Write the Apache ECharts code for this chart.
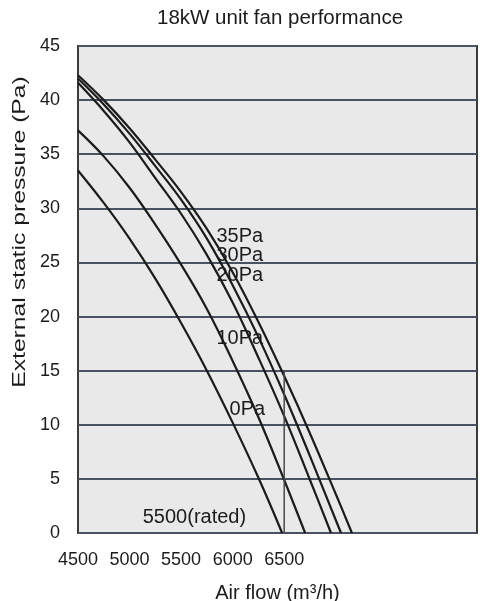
<!DOCTYPE html>
<html>
<head>
<meta charset="utf-8">
<script src="https://cdn.jsdelivr.net/npm/echarts@6/dist/echarts.min.js"></script>
<style>
  html, body { margin: 0; padding: 0; background: #fff; }
  #chart { width: 484px; height: 601px; }
</style>
</head>
<body>
<div id="chart"></div>
<script>
// flow points (m3/h)
var flowSteps = [4500, 4750, 5000, 5250, 5500, 5750, 6000, 6250, 6500, 6750, 7000];
// pressure (Pa) along each curve, then the flow where it hits 0
var curve0Pa = [33.5, 30.5, 27.2, 23.5, 19.4, 15.0, 10.2, 5.1];
var curve10Pa = [37.2, 34.8, 31.9, 28.5, 24.8, 20.7, 15.9, 10.7, 4.9];
var curve20Pa = [41.6, 39.0, 36.1, 32.8, 29.5, 25.7, 21.3, 16.2, 10.8, 4.9];
var curve30Pa = [42.0, 39.6, 36.9, 33.9, 30.8, 27.2, 22.9, 18.1, 12.8, 7.1, 1.2];
var curve35Pa = [42.3, 40.0, 37.4, 34.5, 31.5, 28.1, 24.1, 19.5, 14.5, 9.2, 3.6];
var zeroFlow = [6480, 6703, 6954, 7051, 7157];
var curveNames = ["0Pa", "10Pa", "20Pa", "30Pa", "35Pa"];
// where each curve label sits [flow, pressure]
var labelPos = [[5970, 11.4], [5843, 18.0], [5843, 23.8], [5843, 25.6], [5843, 27.4]];
var xTicks = [4500, 5000, 5500, 6000, 6500];
var ratedFlow = 6500;
var ratedTop = 15;
var ratedText = "5500(rated)";
var ratedTextPos = [5128, 1.4];

var FONT = "Liberation Sans, Arial, sans-serif";

function curveData(vals, end) {
  var pts = [];
  for (var i = 0; i < vals.length; i++) pts.push([flowSteps[i], vals[i]]);
  pts.push([end, 0]);
  return pts;
}

var allCurves = [curve0Pa, curve10Pa, curve20Pa, curve30Pa, curve35Pa];
var series = [];
allCurves.forEach(function (vals, k) {
  series.push({
    name: curveNames[k],
    type: "line",
    data: curveData(vals, zeroFlow[k]),
    smooth: 0.4,
    symbol: "none",
    lineStyle: { color: "#1b1b1b", width: 2.2 },
    markPoint: {
      symbol: "circle",
      symbolSize: 0,
      data: [{ coord: labelPos[k] }],
      label: {
        show: true,
        position: "right",
        distance: 0,
        formatter: curveNames[k],
        color: "#1b1b1b",
        fontFamily: FONT,
        fontSize: 20
      }
    }
  });
});

series.push({
  name: "rated",
  type: "line",
  data: [[ratedFlow, 0], [ratedFlow, ratedTop]],
  symbol: "none",
  lineStyle: { color: "#4a4a4a", width: 1.5 },
  markPoint: {
    symbol: "circle",
    symbolSize: 0,
    data: [{ coord: ratedTextPos }],
    label: {
      show: true,
      position: "right",
      distance: 0,
      formatter: ratedText,
      color: "#1b1b1b",
      fontFamily: FONT,
      fontSize: 20
    }
  }
});

var myChart = echarts.init(document.getElementById("chart"));
myChart.setOption({
  animation: false,
  title: {
    text: "18kW unit fan performance",
    left: 152,
    top: 3,
    textStyle: { fontFamily: FONT, fontSize: 20.5, fontWeight: "normal", color: "#1b1b1b" }
  },
  graphic: [{
    type: "text",
    x: 20,
    y: 232,
    rotation: Math.PI / 2,
    scaleX: 1.3,
    style: {
      text: "External static pressure (Pa)",
      align: "center",
      verticalAlign: "middle",
      font: "19px " + FONT,
      fill: "#1b1b1b"
    }
  }],
  grid: {
    left: 78,
    right: 7,
    top: 46,
    bottom: 68,
    show: true,
    backgroundColor: "#e9e9e9",
    borderColor: "#3a3a3a",
    borderWidth: 2,
    outerBoundsMode: "none"
  },
  xAxis: {
    type: "value",
    min: 4500,
    max: 8370,
    interval: 500,
    name: "Air flow (m³/h)",
    nameLocation: "middle",
    nameGap: 50,
    nameTextStyle: { fontFamily: FONT, fontSize: 20, color: "#1b1b1b" },
    axisLine: { show: false },
    axisTick: { show: false },
    splitLine: { show: false },
    axisLabel: {
      margin: 18,
      fontFamily: FONT,
      fontSize: 18,
      color: "#1b1b1b",
      formatter: function (v) { return xTicks.indexOf(v) >= 0 ? String(v) : ""; }
    }
  },
  yAxis: {
    type: "value",
    min: 0,
    max: 45,
    interval: 5,
    axisLine: { show: false },
    axisTick: { show: false },
    splitLine: { show: true, lineStyle: { color: "#4a5262", width: 2 } },
    axisLabel: { margin: 18, fontFamily: FONT, fontSize: 18, color: "#1b1b1b" }
  },
  series: series
});
</script>
</body>
</html>
